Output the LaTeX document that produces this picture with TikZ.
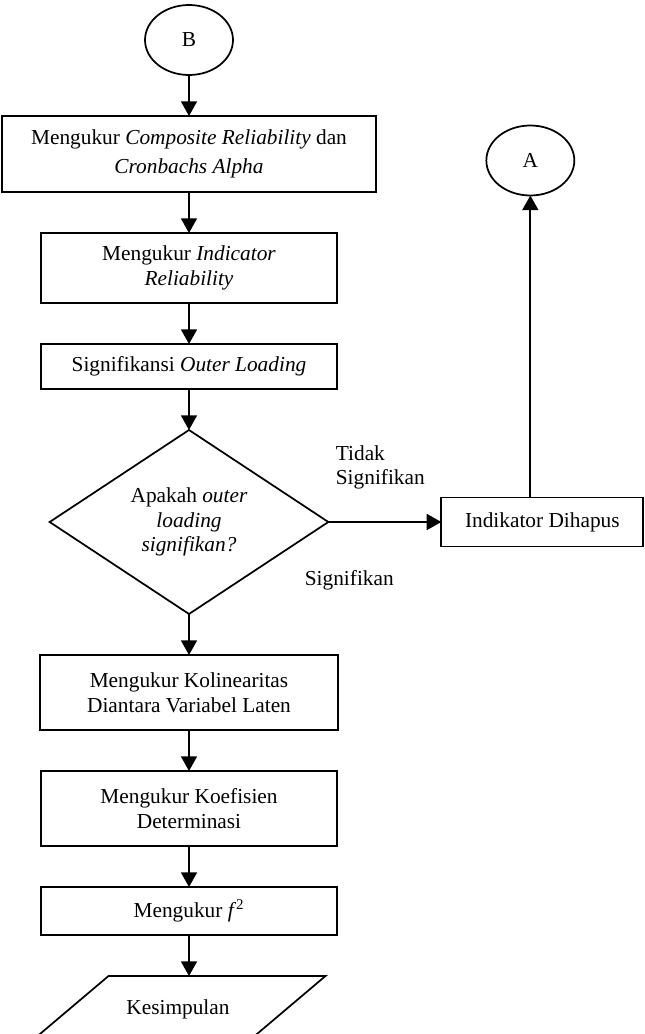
\documentclass[tikz,border=0pt]{standalone}
\usepackage{fontspec}
\setmainfont{Liberation Serif}
\usetikzlibrary{shapes,arrows.meta,positioning}

\begin{document}
\begin{tikzpicture}[
      font=\fontsize{16}{18.4}\selectfont,
      node distance=30.75pt,
      proc/.style={rectangle, draw, line width=1.3pt, outer sep=0pt, align=center, minimum width=222pt, minimum height=56.25pt, inner sep=2pt},
      term/.style={ellipse, draw, line width=1.3pt, outer sep=0pt, minimum width=66pt, minimum height=52.5pt},
      decision/.style={diamond, draw, line width=1.3pt, outer sep=0pt, aspect=1.5, inner sep=0pt, align=center, minimum width=209pt, minimum height=138pt},
      io/.style={rectangle, outer sep=0pt, minimum width=162.75pt, minimum height=49.5pt},
      arrow/.style={-{Triangle[width=12pt,length=11pt]}, line width=1.3pt},
      lbl/.style={inner sep=0pt, align=left}
    ]
      \useasboundingbox (0,0) rectangle (483.75pt,-775.5pt);

      \node[term] (conB) at (141.75pt,-30pt) {B};
      \node[proc, below=of conB, minimum width=280.5pt, minimum height=57pt] (crel) {Mengukur \textit{Composite Reliability} dan\\[3.5pt] \textit{Cronbachs Alpha}};
      \node[proc, below=of crel, minimum height=52.5pt] (irel) {Mengukur \textit{Indicator}\\ \textit{Reliability}};
      \node[proc, below=of irel, minimum height=33.75pt] (sigol) {Signifikansi \textit{Outer Loading}};
      \node[decision, below=of sigol] (cek) {Apakah \textit{outer}\\ \textit{loading}\\ \textit{signifikan?}};
      \node[proc, below=of cek, minimum width=223.5pt] (kolin) {Mengukur Kolinearitas\\ Diantara Variabel Laten};
      \node[proc, below=of kolin] (koef) {Mengukur Koefisien\\ Determinasi};
      \node[proc, below=of koef, minimum height=36pt] (fsq) {Mengukur \textit{f}\textsuperscript{2}};
      \node[io, below=of fsq, xshift=-8.25pt] (simpul) {Kesimpulan};
      % parallelogram for the output
      \draw[line width=1.3pt] ([xshift=29.25pt]simpul.north west) -- ([xshift=29.25pt]simpul.north east)
        -- ([xshift=-29.25pt]simpul.south east) -- ([xshift=-29.25pt]simpul.south west) -- cycle;

      \node[proc, right=84.75pt of cek, minimum width=151.5pt, minimum height=36.75pt] (hapus) {Indikator Dihapus};
      \node[term, above=226.5pt of hapus, xshift=-9pt] (conA) {A};

      \draw[arrow] (conB) -- (crel);
      \draw[arrow] (crel) -- (irel);
      \draw[arrow] (irel) -- (sigol);
      \draw[arrow] (sigol) -- (cek);
      \draw[arrow] (cek) -- node[lbl, pos=0, anchor=west, xshift=86.25pt, yshift=25.5pt]{Signifikan} (kolin);
      \draw[arrow] (cek) -- node[lbl, pos=0, anchor=south west, xshift=5pt, yshift=23.75pt]{Tidak\\ Signifikan} (hapus);
      \draw[arrow] (hapus.north -| conA) -- (conA);
      \draw[arrow] (kolin) -- (koef);
      \draw[arrow] (koef) -- (fsq);
      \draw[arrow] (fsq.south) -- (fsq.south |- simpul.north);
    \end{tikzpicture}
\end{document}
